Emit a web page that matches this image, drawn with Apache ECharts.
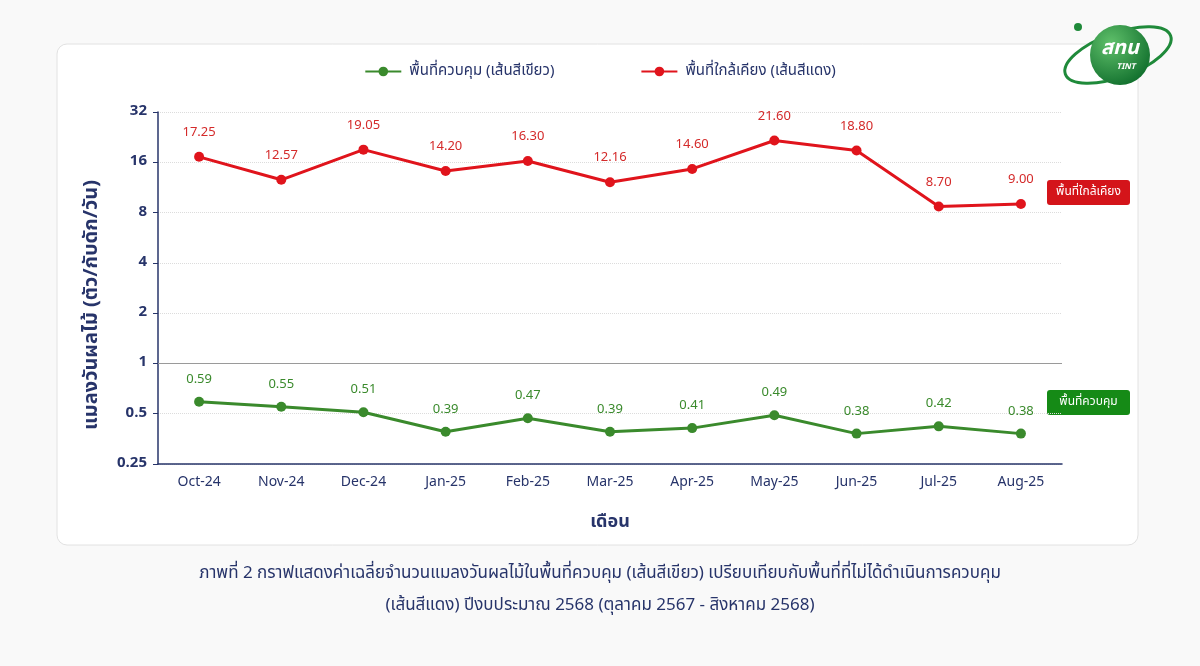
<!DOCTYPE html>
<html>
<head>
<meta charset="utf-8">
<script src="https://cdn.jsdelivr.net/npm/echarts@6/dist/echarts.min.js"></script>
<style>
html,body{margin:0;padding:0;background:#f9f9f9;}
#chart{width:1200px;height:666px;}
</style>
</head>
<body>
<div id="chart"></div>
<script>
const months = ['Oct-24','Nov-24','Dec-24','Jan-25','Feb-25','Mar-25','Apr-25','May-25','Jun-25','Jul-25','Aug-25'];
const controlArea = [0.59,0.55,0.51,0.39,0.47,0.39,0.41,0.49,0.38,0.42,0.38];
const nearbyArea = [17.25,12.57,19.05,14.20,16.30,12.16,14.60,21.60,18.80,8.70,9.00];
const yTicks = [0.25,0.5,1,2,4,8,16,32];
const controlName = 'พื้นที่ควบคุม (เส้นสีเขียว)';
const nearbyName = 'พื้นที่ใกล้เคียง (เส้นสีแดง)';
const yTitle = 'แมลงวันผลไม้ (ตัว/กับดัก/วัน)';
const xTitle = 'เดือน';
const caption1 = 'ภาพที่ 2 กราฟแสดงค่าเฉลี่ยจำนวนแมลงวันผลไม้ในพื้นที่ควบคุม (เส้นสีเขียว) เปรียบเทียบกับพื้นที่ที่ไม่ได้ดำเนินการควบคุม';
const caption2 = '(เส้นสีแดง) ปีงบประมาณ 2568 (ตุลาคม 2567 - สิงหาคม 2568)';

const navy = '#27346a';
const green = '#3a8a2c';
const red = '#e0141c';
const FONT = '"Noto Sans Thai","Tahoma","Noto Sans","DejaVu Sans",sans-serif';

const chart = echarts.init(document.getElementById('chart'));
chart.setOption({
  backgroundColor: '#f9f9f9',
  textStyle: {fontFamily: FONT},
  graphic: [
    {type:'rect', z:-10, shape:{x:57,y:44,width:1081,height:501,r:10}, style:{fill:'#ffffff',stroke:'#e2e2e2',lineWidth:1}},
    {type:'text', left:'center', top:566, style:{text:caption1, fill:navy, font:'17px '+FONT}},
    {type:'text', left:'center', top:598, style:{text:caption2, fill:navy, font:'17px '+FONT}},
    {type:'text', x:93, y:305, rotation:Math.PI/2, style:{text:yTitle, fill:navy, font:'bold 20px '+FONT, align:'center', verticalAlign:'middle'}},
    {type:'rect', shape:{x:1047,y:180,width:83,height:25,r:3}, style:{fill:'#d4141a'}},
    {type:'text', x:1088.5, y:192.5, style:{text:'พื้นที่ใกล้เคียง', fill:'#fff', font:'12px '+FONT, align:'center', verticalAlign:'middle'}},
    {type:'rect', shape:{x:1047,y:390,width:83,height:25,r:3}, style:{fill:'#158a16'}},
    {type:'text', x:1088.5, y:402.5, style:{text:'พื้นที่ควบคุม', fill:'#fff', font:'12px '+FONT, align:'center', verticalAlign:'middle'}},
    {type:'ellipse', x:1118, y:55, rotation:0.35, shape:{cx:0,cy:0,rx:56,ry:22}, style:{fill:'none',stroke:'#1f8a3a',lineWidth:3}},
    {type:'circle', shape:{cx:1120,cy:55,r:30}, style:{fill:new echarts.graphic.RadialGradient(0.35,0.3,0.8,[{offset:0,color:'#5fc06a'},{offset:1,color:'#0d6b2a'}])}},
    {type:'circle', shape:{cx:1078,cy:27,r:4}, style:{fill:'#1f8a3a'}},
    {type:'text', x:1120, y:50, style:{text:'สทน', fill:'#fff', font:'bold italic 20px '+FONT, align:'center', verticalAlign:'middle'}},
    {type:'text', x:1126, y:67, style:{text:'TINT', fill:'#fff', font:'bold italic 8px '+FONT, align:'center', verticalAlign:'middle'}}
  ],
  legend: {
    top: 59,
    left: 'center',
    itemGap: 86,
    itemWidth: 36,
    itemHeight: 12,
    textStyle: {color: navy, fontSize: 15, fontFamily: FONT, padding:[0,0,0,3]},
    data: [controlName, nearbyName]
  },
  grid: {left:158, top:112, right:138, bottom:202, containLabel:false},
  xAxis: {
    type: 'category',
    data: months,
    boundaryGap: true,
    axisLine: {lineStyle:{color:navy, width:1.5}},
    axisTick: {alignWithLabel:true, lineStyle:{color:navy}},
    axisLabel: {color:navy, fontSize:14, margin:12, fontFamily: FONT},
    name: xTitle,
    nameLocation: 'middle',
    nameGap: 50,
    nameTextStyle: {color:navy, fontSize:18, fontWeight:'bold', fontFamily: FONT}
  },
  yAxis: {
    type: 'log',
    logBase: 2,
    min: 0.25,
    max: 32,
    axisLine: {show:true, lineStyle:{color:navy, width:1.5}},
    axisTick: {show:true, lineStyle:{color:navy}},
    axisLabel: {color:navy, fontSize:15, fontWeight:'bold', margin:11, fontFamily: FONT,
      formatter: v => { const t = yTicks.find(k => Math.abs(k - v) < 1e-6); return t === undefined ? '' : String(t); }},
    splitLine: {show:true, lineStyle:{color:'#dcdcdc', type:'dotted'}},
    minorTick: {show:false}
  },
  series: [
    {
      name: controlName,
      type: 'line',
      data: controlArea,
      symbol: 'circle',
      symbolSize: 10,
      lineStyle: {color:green, width:3},
      itemStyle: {color:green},
      label: {show:true, position:'top', distance:10, color:green, fontSize:13, fontFamily: FONT, formatter: p => p.value.toFixed(2)},
      markLine: {
        silent: true, symbol: 'none', label: {show:false},
        lineStyle: {color:'#9a9a9a', type:'solid', width:1.2},
        data: [{yAxis: 1}]
      },
      z: 3
    },
    {
      name: nearbyName,
      type: 'line',
      data: nearbyArea,
      symbol: 'circle',
      symbolSize: 10,
      lineStyle: {color:red, width:3},
      itemStyle: {color:red},
      label: {show:true, position:'top', distance:12, color:'#d42a2a', fontSize:13, fontFamily: FONT, formatter: p => p.value.toFixed(2)},
      z: 3
    }
  ]
});
</script>
</body>
</html>
